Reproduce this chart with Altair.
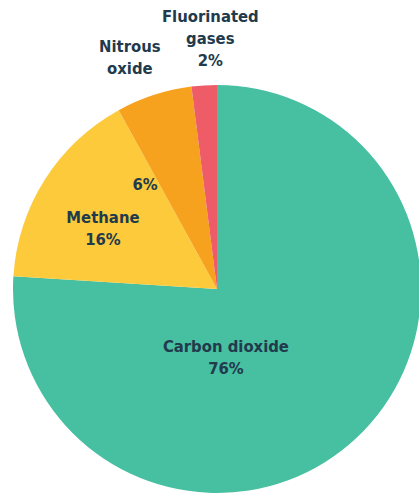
import altair as alt
import pandas as pd

# Greenhouse gas shares (percent of total emissions)
gases = ["Carbon dioxide", "Methane", "Nitrous oxide", "Fluorinated gases"]
shares = [76, 16, 6, 2]
colors = ["#47BFA1", "#FDCA3C", "#F7A21F", "#EE5D67"]

df = pd.DataFrame({"gas": gases, "share": shares, "rank": range(len(gases))})

CX, CY, R = 217, 289, 204
FONT = "DejaVu Sans Condensed, Liberation Sans Narrow, sans-serif"
INK = "#213A4C"
LINE_H = 22

pie = alt.Chart(df).mark_arc(outerRadius=R).encode(
    theta=alt.Theta("share:Q", stack=True),
    order=alt.Order("rank:O", sort="ascending"),
    color=alt.Color("gas:N", scale=alt.Scale(domain=gases, range=colors), legend=None),
    x=alt.value(CX),
    y=alt.value(CY),
)

# Label anchors sit at the angular middle of each slice
label_base = alt.Chart(df).transform_window(
    cum="sum(share)", sort=[alt.SortField("rank", order="ascending")]
).transform_calculate(
    mid="datum.cum - datum.share / 2"
).encode(
    theta=alt.Theta("mid:Q", stack=None, scale=alt.Scale(domain=[0, 100], range=[0, 6.283185307179586])),
    x=alt.value(CX),
    y=alt.value(CY),
)

def label(gas, lines, radius, dx=0, dy=0):
    # centre the whole block of lines on the anchor
    dy = dy - (len(lines) - 1) * LINE_H / 2
    return label_base.transform_filter(alt.datum.gas == gas).mark_text(
        radius=radius, dx=dx, dy=dy, font=FONT, fontSize=16.5, fontWeight="bold",
        color=INK, lineHeight=LINE_H, align="center", baseline="middle",
    ).encode(text=alt.value(lines))

share_of = dict(zip(gases, shares))
labels = [
    label("Carbon dioxide", ["Carbon dioxide", f"{share_of['Carbon dioxide']}%"], 70, -39, 18),
    label("Methane", ["Methane", f"{share_of['Methane']}%"], 128, -6, 9),
    label("Nitrous oxide", [f"{share_of['Nitrous oxide']}%"], 110, -38, 1),
    label("Nitrous oxide", ["Nitrous", "oxide"], 240, -13, -3),
    label("Fluorinated gases", ["Fluorinated", "gases", f"{share_of['Fluorinated gases']}%"], 250, 9, 0),
]

chart = alt.layer(pie, *labels).properties(
    width=419, height=493, padding=0, autosize=alt.AutoSizeParams(type="none")
).configure_view(stroke=None)

chart.save("out.html", embed_options={"renderer": "svg", "actions": False})
